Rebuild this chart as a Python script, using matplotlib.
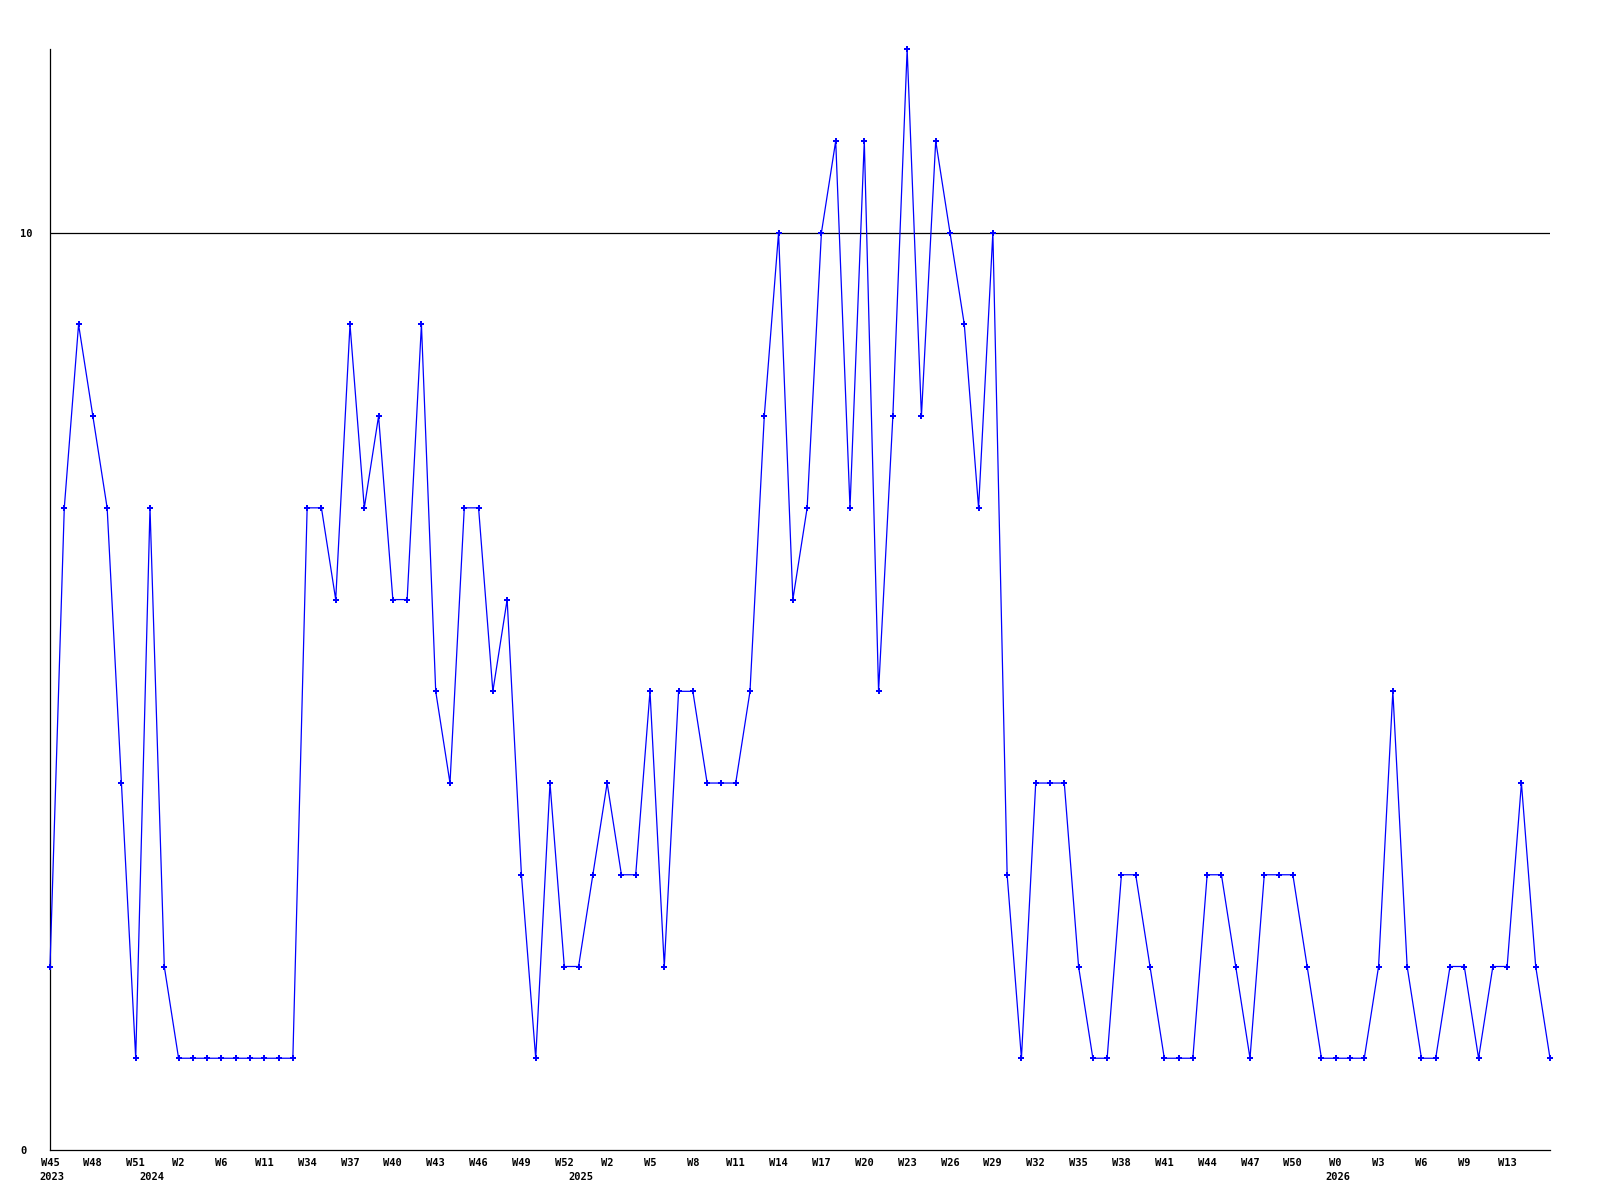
import matplotlib
matplotlib.use("Agg")
import matplotlib.pyplot as plt

# weekly values, one per point (the x axis is categorical: weeks with no data are skipped)
values = [2, 7, 9, 8, 7, 4, 1, 7, 2, 1,
          1, 1, 1, 1, 1, 1, 1, 1, 7, 7,
          6, 9, 7, 8, 6, 6, 9, 5, 4, 7,
          7, 5, 6, 3, 1, 4, 2, 2, 3, 4,
          3, 3, 5, 2, 5, 5, 4, 4, 4, 5,
          8, 10, 6, 7, 10, 11, 7, 11, 5, 8,
          12, 8, 11, 10, 9, 7, 10, 3, 1, 4,
          4, 4, 2, 1, 1, 3, 3, 2, 1, 1,
          1, 3, 3, 2, 1, 3, 3, 3, 2, 1,
          1, 1, 1, 2, 5, 2, 1, 1, 2, 2,
          1, 2, 2, 4, 2, 1]

# week labels, shown on every third point
week_labels = ["W45", "W48", "W51", "W2", "W6", "W11", "W34", "W37", "W40", "W43",
               "W46", "W49", "W52", "W2", "W5", "W8", "W11", "W14", "W17", "W20",
               "W23", "W26", "W29", "W32", "W35", "W38", "W41", "W44", "W47", "W50",
               "W0", "W3", "W6", "W9", "W13"]

# year labels and the point where each year starts
years = ["2023", "2024", "2025", "2026"]
year_start = [0, 7, 37, 90]

x = list(range(len(values)))

fig = plt.figure(figsize=(16, 12), dpi=100)
ax = fig.add_axes([0.03125, 0.0417, 0.9375, 0.9173])

ax.plot(x, values, color="#0000ff", linewidth=0.9, marker="P", markersize=4,
        markeredgewidth=0, clip_on=False, zorder=3)

ax.set_xlim(0, len(values) - 1)
ax.set_ylim(0, max(values))

ax.axhline(10, color="black", linewidth=0.9, zorder=2)

for s in ["top", "right"]:
    ax.spines[s].set_visible(False)
for s in ["left", "bottom"]:
    ax.spines[s].set_linewidth(0.9)

font = dict(family="DejaVu Sans Mono", fontsize=7.5, fontweight="bold")

ax.set_yticks([0, 10])
ax.set_yticklabels(["0", "10"], ha="left", **font)
ax.tick_params(axis="y", length=0, pad=21.5)

ticks = x[0:len(week_labels) * 3:3]
ax.set_xticks(ticks)
ax.set_xticklabels(week_labels, **font)
ax.tick_params(axis="x", length=0, pad=6)

for yr, i in zip(years, year_start):
    ax.annotate(yr, xy=(i, 0), xycoords=("data", "axes fraction"),
                xytext=(-7.5, -16), textcoords="offset points",
                ha="left", va="top", **font)

fig.savefig("out.png", dpi=100)
